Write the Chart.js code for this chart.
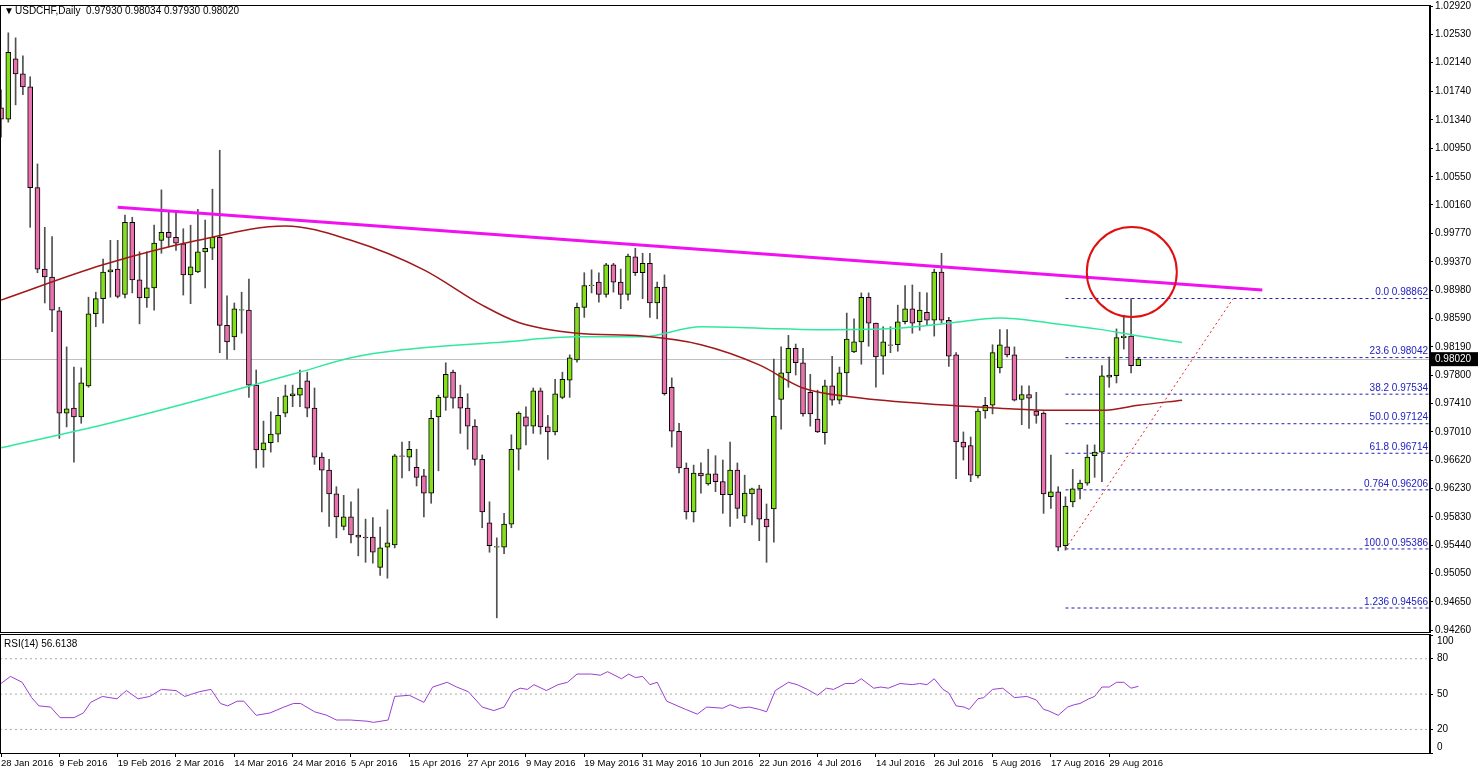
<!DOCTYPE html>
<html><head><meta charset="utf-8">
<script src="https://cdn.jsdelivr.net/npm/chart.js@4.4.0/dist/chart.umd.min.js"></script>
<style>
html,body{margin:0;padding:0;background:#fff;overflow:hidden}
#w1{position:absolute;left:0;top:0;width:1480px;height:633px}
#w2{position:absolute;left:0;top:633px;width:1480px;height:139px}
</style></head><body>
<div id="w1"><canvas id="c1"></canvas></div>
<div id="w2"><canvas id="c2"></canvas></div>
<script>
const opens=[1.0151,1.0135,1.0219,1.0198,1.0180,1.0040,0.9927,0.9916,0.9869,0.9727,
0.9734,0.9722,0.9765,0.9865,0.9886,0.9923,0.9927,0.9892,0.9992,0.9912,
0.9887,0.9901,0.9967,0.9978,0.9971,0.9962,0.9919,0.9923,0.9951,0.9956,
0.9971,0.9849,0.9833,0.9870,0.9870,0.9766,0.9676,0.9686,0.9698,0.9727,
0.9751,0.9752,0.9772,0.9734,0.9666,0.9648,0.9615,0.9570,0.9583,0.9558,
0.9555,0.9555,0.9513,0.9541,0.9544,0.9668,0.9666,0.9652,0.9640,0.9616,
0.9722,0.9749,0.9784,0.9749,0.9734,0.9709,0.9663,0.9575,0.9541,0.9541,
0.9573,0.9677,0.9722,0.9709,0.9758,0.9708,0.9701,0.9749,0.9773,0.9801,
0.9874,0.9904,0.9909,0.9892,0.9933,0.9909,0.9892,0.9944,0.9922,0.9935,
0.9880,0.9902,0.9763,0.9702,0.9651,0.9590,0.9644,0.9629,0.9643,0.9632,
0.9614,0.9648,0.9584,0.9615,0.9622,0.9580,0.9594,0.9746,0.9783,0.9817,
0.9797,0.9756,0.9719,0.9700,0.9765,0.9745,0.9783,0.9812,0.9826,0.9888,
0.9852,0.9806,0.9822,0.9822,0.9854,0.9872,0.9854,0.9867,0.9856,0.9923,
0.9856,0.9808,0.9687,0.9682,0.9640,0.9730,0.9738,0.9790,0.9819,0.9808,
0.9746,0.9753,0.9730,0.9727,0.9611,0.9618,0.9543,0.9604,0.9622,0.9630,
0.9668,0.9673,0.9777,0.9779,0.9832,0.9834,0.9793];
const highs=[1.0176,1.0255,1.0248,1.0223,1.0194,1.0073,0.9985,0.9972,0.9874,0.9819,
0.9791,0.9790,0.9888,0.9895,0.9941,0.9967,0.9967,1.0002,0.9999,0.9951,
0.9951,0.9988,1.0037,1.0006,1.0006,0.9983,0.9988,1.0010,0.9995,1.0038,
1.0092,0.9890,0.9880,0.9895,0.9913,0.9787,0.9716,0.9729,0.9749,0.9766,
0.9766,0.9787,0.9784,0.9762,0.9672,0.9663,0.9625,0.9613,0.9604,0.9622,
0.9580,0.9582,0.9569,0.9593,0.9670,0.9687,0.9688,0.9677,0.9649,0.9731,
0.9752,0.9797,0.9787,0.9766,0.9754,0.9718,0.9669,0.9604,0.9554,0.9588,
0.9697,0.9729,0.9736,0.9762,0.9762,0.9724,0.9774,0.9784,0.9808,0.9880,
0.9922,0.9926,0.9922,0.9935,0.9935,0.9927,0.9948,0.9956,0.9949,0.9949,
0.9909,0.9919,0.9776,0.9713,0.9658,0.9655,0.9658,0.9677,0.9668,0.9662,
0.9687,0.9658,0.9641,0.9623,0.9627,0.9601,0.9802,0.9819,0.9835,0.9823,
0.9817,0.9781,0.9759,0.9773,0.9806,0.9791,0.9866,0.9858,0.9894,0.9894,
0.9852,0.9847,0.9847,0.9877,0.9904,0.9905,0.9895,0.9894,0.9927,0.9949,
0.9860,0.9811,0.9701,0.9694,0.9733,0.9749,0.9822,0.9843,0.9843,0.9819,
0.9765,0.9765,0.9756,0.9729,0.9669,0.9625,0.9611,0.9649,0.9634,0.9683,
0.9683,0.9793,0.9805,0.9844,0.9863,0.9886,0.98034];
const lows=[1.0110,1.0131,1.0155,1.0169,0.9985,0.9922,0.9880,0.9840,0.9692,0.9708,
0.9659,0.9713,0.9763,0.9847,0.9852,0.9888,0.9887,0.9887,0.9894,0.9851,
0.9874,0.9870,0.9949,0.9958,0.9953,0.9891,0.9879,0.9922,0.9901,0.9940,
0.9811,0.9802,0.9815,0.9838,0.9749,0.9651,0.9652,0.9673,0.9687,0.9722,
0.9736,0.9736,0.9722,0.9656,0.9590,0.9570,0.9554,0.9565,0.9547,0.9529,
0.9520,0.9519,0.9502,0.9498,0.9540,0.9637,0.9647,0.9626,0.9583,0.9602,
0.9647,0.9731,0.9734,0.9699,0.9677,0.9655,0.9568,0.9534,0.9443,0.9532,
0.9568,0.9648,0.9683,0.9699,0.9698,0.9663,0.9697,0.9747,0.9749,0.9798,
0.9860,0.9894,0.9881,0.9888,0.9895,0.9872,0.9884,0.9918,0.9886,0.9860,
0.9858,0.9752,0.9680,0.9644,0.9580,0.9576,0.9616,0.9627,0.9618,0.9588,
0.9570,0.9581,0.9575,0.9572,0.9550,0.9520,0.9548,0.9705,0.9763,0.9780,
0.9723,0.9709,0.9700,0.9684,0.9738,0.9740,0.9752,0.9811,0.9795,0.9820,
0.9763,0.9781,0.9811,0.9813,0.9851,0.9838,0.9842,0.9849,0.9834,0.9852,
0.9792,0.9636,0.9662,0.9632,0.9637,0.9720,0.9726,0.9783,0.9805,0.9744,
0.9711,0.9706,0.9713,0.9588,0.9595,0.9536,0.9537,0.9597,0.9608,0.9627,
0.9638,0.9632,0.9763,0.9769,0.9816,0.9783,0.9793];
const closes=[1.0135,1.0228,1.0198,1.0180,1.0040,0.9927,0.9916,0.9870,0.9727,0.9733,
0.9722,0.9769,0.9865,0.9886,0.9923,0.9926,0.9889,0.9992,0.9912,0.9887,
0.9901,0.9963,0.9978,0.9971,0.9963,0.9919,0.9930,0.9951,0.9956,0.9971,
0.9849,0.9826,0.9872,0.9871,0.9766,0.9676,0.9686,0.9698,0.9724,0.9751,
0.9754,0.9762,0.9734,0.9666,0.9648,0.9615,0.9583,0.9583,0.9558,0.9555,
0.9554,0.9534,0.9540,0.9547,0.9668,0.9667,0.9677,0.9638,0.9616,0.9720,
0.9749,0.9781,0.9748,0.9734,0.9709,0.9663,0.9590,0.9543,0.9542,0.9573,
0.9677,0.9727,0.9709,0.9758,0.9708,0.9701,0.9754,0.9774,0.9804,0.9874,
0.9904,0.9905,0.9892,0.9933,0.9909,0.9892,0.9945,0.9922,0.9935,0.9880,
0.9902,0.9754,0.9702,0.9651,0.9590,0.9644,0.9640,0.9643,0.9632,0.9614,
0.9648,0.9595,0.9616,0.9622,0.9580,0.9569,0.9723,0.9783,0.9817,0.9797,
0.9726,0.9726,0.9701,0.9765,0.9745,0.9783,0.9830,0.9826,0.9888,0.9852,
0.9805,0.9826,0.9821,0.9854,0.9872,0.9852,0.9870,0.9856,0.9923,0.9856,
0.9806,0.9687,0.9680,0.9641,0.9730,0.9738,0.9811,0.9822,0.9808,0.9745,
0.9753,0.9748,0.9724,0.9615,0.9618,0.9541,0.9598,0.9622,0.9630,0.9666,
0.9673,0.9779,0.9780,0.9832,0.9834,0.9793,0.9802];

const maSlowIdx=[0,14,27,39,48,58,66,71,79,88,96,104,110,117,130,137,144,151,156,162];
const maSlowVal=[0.9884,0.9933,0.9967,0.9987,0.9967,0.9926,0.9877,0.9853,0.9838,0.9834,0.9822,0.9794,0.9762,0.9749,0.9738,0.9734,0.9731,0.9731,0.9738,0.9745];
const maLongIdx=[0,14,27,41,48,55,69,79,88,96,104,112,123,130,137,144,151,155,162];
const maLongVal=[0.9679,0.9711,0.9745,0.9784,0.9804,0.9815,0.9826,0.9833,0.9833,0.9847,0.9845,0.9843,0.9845,0.9852,0.9859,0.9852,0.9843,0.9836,0.9825];

const trendIdx=[16,173]; const trendVal=[1.0013,0.9898];
const swingIdx=[146,169]; const swingVal=[0.95386,0.98862];
const fibNames=["0.0","23.6","38.2","50.0","61.8","0.764","100.0","1.236"];
const fibVals=[0.98862,0.98042,0.97534,0.97124,0.96714,0.96206,0.95386,0.94566];
const priceTicks=[1.02920,1.02530,1.02140,1.01740,1.01340,1.00950,1.00550,1.00160,0.99770,0.99370,0.98980,0.98590,0.98190,0.97800,0.97410,0.97010,0.96620,0.96230,0.95830,0.95440,0.95050,0.94650,0.94260];
const lastPrice=0.98020;
const circleIdx=155.1, circleVal=0.9923;

const dateLabels=["28 Jan 2016","9 Feb 2016","19 Feb 2016","2 Mar 2016","14 Mar 2016","24 Mar 2016","5 Apr 2016","15 Apr 2016","27 Apr 2016","9 May 2016","19 May 2016","31 May 2016","10 Jun 2016","22 Jun 2016","4 Jul 2016","14 Jul 2016","26 Jul 2016","5 Aug 2016","17 Aug 2016","29 Aug 2016"];
const rsiIdx=[0,1.3,2.9,4.2,5.2,6.8,8.1,10,11.3,12.3,13.9,15.9,17.2,18.8,20.4,22,24,25.2,27.2,28.8,30.1,31.1,32.4,33.3,35,36.9,38.8,40.1,41.1,43,44.7,46,47.9,50.2,51.1,53.1,54,56,58,59.2,61.2,62.5,64.1,66,67.6,69,70.2,71.2,72.2,73.1,74.8,76.4,77.7,79,81,82.2,83.2,85.1,86.1,87,88,89,90,91.3,93.9,95.5,96.8,99,100,101.3,102.6,104,105,106.2,108,109.2,110.6,112,113.2,114.2,115.8,117,118,119.7,120.7,121.7,123.3,125,126,127,128,129.2,130,131,132.1,132.8,134,134.8,136,137.4,139,140.7,142,143,143.6,145,146.3,147.2,148,149.2,150,151,152,153,154,155,156];
const rsiVal=[59,65,60,47,40,39,30,30,34,43,48,46,53,46,48,54,53,48,52,54,42,40,44,44,32,34,39,42,42,35,32,28,28,27,26,28,48,49,43,56,60,56,52,39,36,39,52,55,54,58,53,58,60,67,67,66,69,63,67,64,65,58,60,44,37,33,39,38,41,38,39,37,35,53,60,58,54,49,55,54,59,59,63,55,56,55,59,58,59,58,63,54,51,40,39,37,46,47,54,55,47,48,45,37,36,32,39,41,42,46,48,56,56,60,60,55,56.6];
const rsiTicks=[0,20,50,80,100];
const rsiLevels=[20,50,80];

const FONT='"Liberation Sans", Arial, sans-serif';
const BULL='#84de1c', BEAR='#e872ad';
const N=opens.length;
const pts=(xs,ys)=>xs.map((x,i)=>({x:x,y:ys[i]}));
const XMIN=-0.14, XMAX=196;

const bodies=[],wicks=[],cols=[];
for(let i=0;i<N;i++){
  let o=opens[i],c=closes[i];
  if(Math.abs(o-c)<0.00005){c=o+0.00006;}
  bodies.push({x:i,y:[o,c]});
  wicks.push({x:i,y:[lows[i],highs[i]]});
  cols.push(closes[i]>=opens[i]?BULL:BEAR);
}
const fibSets=fibVals.map(v=>({type:'line',data:[{x:146,y:v},{x:XMAX,y:v}],borderColor:'#2020b0',borderWidth:1,borderDash:[3,3],pointRadius:0,order:6}));
const noPad=s=>{s.paddingTop=0;s.paddingBottom=0;};

const overlay={
  id:'overlay',
  beforeDatasetsDraw(ch){
    const ctx=ch.ctx,a=ch.chartArea,y=ch.scales.y;
    const py=Math.round(y.getPixelForValue(lastPrice))+0.5;
    ctx.save();ctx.strokeStyle='#c0c0c0';ctx.lineWidth=1;
    ctx.beginPath();ctx.moveTo(a.left,py);ctx.lineTo(a.right,py);ctx.stroke();ctx.restore();
  },
  afterDatasetsDraw(ch){
    const ctx=ch.ctx,a=ch.chartArea,x=ch.scales.x,y=ch.scales.y;
    ctx.save();
    ctx.font='10px '+FONT;ctx.fillStyle='#2020c0';ctx.textAlign='right';ctx.textBaseline='bottom';
    fibVals.forEach((v,i)=>{ctx.fillText(fibNames[i]+' '+v.toFixed(5),a.right-2,y.getPixelForValue(v)-1);});
    ctx.strokeStyle='#e01010';ctx.lineWidth=2;ctx.beginPath();
    ctx.arc(x.getPixelForValue(circleIdx),y.getPixelForValue(circleVal),45,0,Math.PI*2);ctx.stroke();
    ctx.strokeStyle='#000';ctx.lineWidth=1;
    ctx.strokeRect(a.left+0.5,a.top+0.5,a.right-a.left-1,a.bottom-a.top);
    const py=y.getPixelForValue(lastPrice);
    ctx.fillStyle='#000';ctx.fillRect(a.right+1,py-7,47,14);
    ctx.fillStyle='#fff';ctx.textAlign='left';ctx.textBaseline='middle';
    ctx.fillText(lastPrice.toFixed(5),a.right+5,py+0.5);
    ctx.fillStyle='#000';ctx.textBaseline='middle';ctx.font='10px '+FONT;
    ctx.fillText('\u25BC',4,11);
    ctx.fillText('USDCHF,Daily  0.97930 0.98034 0.97930 0.98020',15,11);
    ctx.restore();
  }
};

new Chart(document.getElementById('c1'),{
  type:'bar',
  data:{datasets:[
    {type:'line',data:pts(trendIdx,trendVal),borderColor:'#f010f0',borderWidth:3,pointRadius:0,order:1},
    {type:'line',data:pts(swingIdx,swingVal),borderColor:'#e02020',borderWidth:1,borderDash:[2,3],pointRadius:0,order:2},
    {type:'line',data:pts(maSlowIdx,maSlowVal),borderColor:'#a01818',borderWidth:1.5,pointRadius:0,tension:0.4,cubicInterpolationMode:'monotone',order:3},
    {type:'line',data:pts(maLongIdx,maLongVal),borderColor:'#30e8a0',borderWidth:1.5,pointRadius:0,tension:0.4,cubicInterpolationMode:'monotone',order:3},
    {data:bodies,backgroundColor:cols,borderColor:'#000',borderWidth:1,borderSkipped:false,barThickness:5,grouped:false,order:4},
    {data:wicks,backgroundColor:'#505050',borderWidth:0,barThickness:1,grouped:false,order:5},
    ...fibSets
  ]},
  options:{
    responsive:true,maintainAspectRatio:false,animation:false,devicePixelRatio:1,
    layout:{padding:{top:5,left:0,right:0,bottom:1}},
    plugins:{legend:{display:false},tooltip:{enabled:false}},
    scales:{
      x:{type:'linear',min:XMIN,max:XMAX,display:false,offset:false},
      y:{type:'linear',position:'right',min:0.94233,max:1.02936,
        afterBuildTicks:s=>{s.ticks=priceTicks.map(v=>({value:v}));},
        afterFit:s=>{s.width=50;noPad(s);},
        ticks:{font:{family:FONT,size:10},color:'#000',padding:2,callback:v=>Number(v).toFixed(5)},
        grid:{drawOnChartArea:false,drawTicks:true,tickLength:3,color:'#000'},
        border:{display:true,color:'#000'}}
    }
  },
  plugins:[overlay]
});

const overlay2={
  id:'overlay2',
  afterDatasetsDraw(ch){
    const ctx=ch.ctx,a=ch.chartArea,y=ch.scales.y;
    ctx.save();ctx.strokeStyle='#000';ctx.lineWidth=1;
    ctx.strokeRect(a.left+0.5,a.top+0.5,a.right-a.left-1,a.bottom-a.top);
    ctx.fillStyle='#000';ctx.font='10px '+FONT;ctx.textBaseline='middle';
    ctx.fillText('RSI(14) 56.6138',4,a.top+10);
    ctx.textAlign='left';
    rsiTicks.forEach(v=>{
      let py=y.getPixelForValue(v);
      py=Math.min(Math.max(py,a.top+7),a.bottom-6);
      ctx.fillText(String(v),a.right+7,py);
    });
    ctx.restore();
  }
};
const levelSets=rsiLevels.map(v=>({data:[{x:XMIN,y:v},{x:XMAX,y:v}],borderColor:'#a8a8a8',borderWidth:1,borderDash:[2,3],pointRadius:0}));
new Chart(document.getElementById('c2'),{
  type:'line',
  data:{datasets:[...levelSets,{data:pts(rsiIdx,rsiVal),borderColor:'#9a3ed0',borderWidth:1,pointRadius:0,tension:0}]},
  options:{
    responsive:true,maintainAspectRatio:false,animation:false,devicePixelRatio:1,
    layout:{padding:{top:1,left:0,right:0,bottom:0}},
    plugins:{legend:{display:false},tooltip:{enabled:false}},
    scales:{
      x:{type:'linear',min:XMIN,max:XMAX,
        afterBuildTicks:s=>{s.ticks=dateLabels.map((d,i)=>({value:i*8}));},
        afterFit:s=>{s.height=19;},
        ticks:{font:{family:FONT,size:9.5},color:'#000',maxRotation:0,autoSkip:false,align:'start',padding:1,
          callback:(v)=>dateLabels[Math.round(v/8)]},
        grid:{drawOnChartArea:false,drawTicks:true,tickLength:4,color:'#000'},
        border:{display:true,color:'#000'}},
      y:{type:'linear',position:'right',min:0,max:101,
        afterBuildTicks:s=>{s.ticks=rsiTicks.map(v=>({value:v}));},
        afterFit:s=>{s.width=50;noPad(s);},
        ticks:{display:false},
        grid:{drawOnChartArea:false,drawTicks:true,tickLength:3,color:'#000'},
        border:{display:true,color:'#000'}}
    }
  },
  plugins:[overlay2]
});
</script></body></html>
